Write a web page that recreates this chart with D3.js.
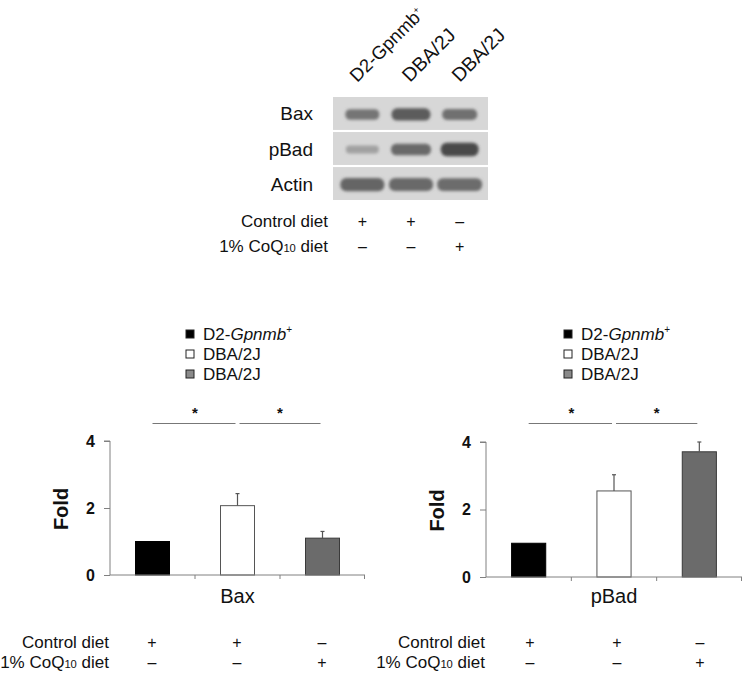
<!DOCTYPE html>
<html>
<head>
<meta charset="utf-8">
<script src="https://cdn.jsdelivr.net/npm/d3@7"></script>
<style>
  html, body { margin: 0; padding: 0; background: #fff; }
  svg { display: block; font-family: "Liberation Sans", Arial, Helvetica, sans-serif; }
</style>
</head>
<body>
<svg id="chart" width="742" height="673"></svg>
<script>
// ---------- data ----------
const groups = ["D2-Gpnmb+", "DBA/2J", "DBA/2J (CoQ10)"];
const groupLabels = ["D2-Gpnmb+", "DBA/2J", "DBA/2J"];
const baxMean = [1.0, 2.07, 1.10];
const baxErr = [0, 0.36, 0.20];
const pBadMean = [1.0, 2.55, 3.71];
const pBadErr = [0, 0.48, 0.29];
const yTicks = [0, 2, 4];
const controlDiet = ["+", "+", "\u2013"];
const coqDiet = ["\u2013", "\u2013", "+"];
const blotRows = ["Bax", "pBad", "Actin"];
const baxBands = [0.55, 0.70, 0.58];
const pBadBands = [0.30, 0.62, 0.80];
const actinBands = [0.64, 0.62, 0.60];

// ---------- setup ----------
const svg = d3.select("#chart");
const FONT = '"Liberation Sans", Arial, Helvetica, sans-serif';
const barFill = ["#000000", "#ffffff", "#6b6b6b"];
const barStroke = ["#000000", "#555555", "#3a3a3a"];
const legendFill = ["#000000", "#ffffff", "#8a8a8a"];

const defs = svg.append("defs");
defs.append("filter").attr("id", "blur").attr("x", "-30%").attr("y", "-80%").attr("width", "160%").attr("height", "260%")
  .append("feGaussianBlur").attr("stdDeviation", 1.6);

// ---------- Western blot ----------
const lane = d3.scaleBand().domain(d3.range(3)).range([338, 484]);
const blotY = d3.scaleBand().domain(blotRows).range([97, 200]).paddingInner(0.06);
const bandData = { "Bax": baxBands, "pBad": pBadBands, "Actin": actinBands };
const bandW = { "Bax": [34, 39, 35], "pBad": [33, 40, 38], "Actin": [44, 44, 45] };
const bandH = { "Bax": 14, "pBad": 14, "Actin": 16 };
const shade = d3.scaleLinear().domain([0, 1]).range(["#d6d6d6", "#262626"]);

blotRows.forEach(r => {
  const y0 = blotY(r), h = blotY.bandwidth();
  svg.append("rect").attr("x", 333).attr("y", y0).attr("width", 155).attr("height", h).attr("fill", "#d7d7d7");
  const g = svg.append("g").attr("filter", "url(#blur)");
  bandData[r].forEach((v, i) => {
    const cx = lane(i) + lane.bandwidth() / 2;
    const bh = bandH[r] * (0.35 + 0.75 * v);
    const bw = bandW[r][i];
    g.append("rect")
      .attr("x", cx - bw / 2).attr("y", y0 + h / 2 - bh / 2 + 1)
      .attr("width", bw).attr("height", bh)
      .attr("rx", bh / 2.2)
      .attr("fill", shade(v));
  });
  svg.append("text").attr("x", 313).attr("y", y0 + h / 2 + 7)
    .attr("text-anchor", "end").attr("font-size", 19).attr("fill", "#111").text(r);
});

// rotated lane labels
const laneLabelShift = [-5, -1, 0];
groupLabels.forEach((lab, i) => {
  const cx = lane(i) + lane.bandwidth() / 2 + laneLabelShift[i];
  const t = svg.append("text")
    .attr("transform", `translate(${cx},83) rotate(-45)`)
    .attr("font-size", i === 0 ? 18.5 : 19.5).attr("fill", "#111");
  if (i === 0) {
    t.append("tspan").text("D2-Gpnmb");
    t.append("tspan").attr("font-size", 9).attr("dy", -7).text("+");
  } else {
    t.text(lab);
  }
});

// diet rows
function dietRows(xRight, xs, y1, y2, fs) {
  svg.append("text").attr("x", xRight).attr("y", y1).attr("text-anchor", "end")
    .attr("font-size", fs).attr("fill", "#111").text("Control diet");
  const t = svg.append("text").attr("x", xRight).attr("y", y2).attr("text-anchor", "end")
    .attr("font-size", fs).attr("fill", "#111");
  t.append("tspan").text("1% CoQ");
  t.append("tspan").attr("font-size", fs * 0.66).text("10");
  t.append("tspan").text(" diet");
  controlDiet.forEach((s, i) => {
    svg.append("text").attr("x", xs[i]).attr("y", y1).attr("text-anchor", "middle")
      .attr("font-size", fs - 1).attr("fill", "#111").text(s);
  });
  coqDiet.forEach((s, i) => {
    svg.append("text").attr("x", xs[i]).attr("y", y2).attr("text-anchor", "middle")
      .attr("font-size", fs - 1).attr("fill", "#111").text(s);
  });
}
dietRows(328, d3.range(3).map(i => lane(i) + lane.bandwidth() / 2), 227, 252, 17);

// ---------- bar charts ----------
function barChart(opt) {
  const { x0, x1, yTop, yBot, mean, err, label, legendX, signX } = opt;
  const x = d3.scaleBand().domain(groups).range([x0, x1]).paddingInner(0.6).paddingOuter(0.3);
  const y = d3.scaleLinear().domain([0, 4]).range([yBot, yTop]);
  const g = svg.append("g");

  // y axis
  const ya = g.append("g").attr("transform", `translate(${x0},0)`)
    .call(d3.axisLeft(y).tickValues(yTicks).tickSize(6).tickPadding(9).tickFormat(d3.format("d")));
  ya.select(".domain").attr("stroke", "#808080").attr("d", `M-6,${y(4)}H0V${y(0)}`);
  ya.selectAll(".tick line").attr("stroke", "#808080");
  ya.selectAll(".tick text").attr("font-family", FONT).attr("font-size", 16).attr("font-weight", "bold").attr("fill", "#111");

  // bars
  g.selectAll(".bar").data(groups).enter().append("rect")
    .attr("x", d => x(d)).attr("y", (d, i) => y(mean[i]))
    .attr("width", x.bandwidth()).attr("height", (d, i) => y(0) - y(mean[i]))
    .attr("fill", (d, i) => barFill[i]).attr("stroke", (d, i) => barStroke[i]).attr("stroke-width", 1);

  // error bars (upper only)
  groups.forEach((d, i) => {
    if (err[i] <= 0) return;
    const cx = x(d) + x.bandwidth() / 2;
    g.append("line").attr("x1", cx).attr("x2", cx).attr("y1", y(mean[i])).attr("y2", y(mean[i] + err[i]))
      .attr("stroke", "#555").attr("stroke-width", 1.2);
    g.append("line").attr("x1", cx - 2).attr("x2", cx + 2).attr("y1", y(mean[i] + err[i])).attr("y2", y(mean[i] + err[i]))
      .attr("stroke", "#555").attr("stroke-width", 1.2);
  });

  // x axis with ticks at group boundaries
  g.append("line").attr("x1", x0).attr("x2", x1).attr("y1", y(0)).attr("y2", y(0)).attr("stroke", "#808080");
  [1, 2, 3].forEach(k => {
    const bx = k < 3 ? x0 + (x1 - x0) * k / 3 : x1 - 0.5;
    g.append("line").attr("x1", bx).attr("x2", bx).attr("y1", y(0)).attr("y2", y(0) + 4).attr("stroke", "#808080");
  });

  // axis labels
  g.append("text").attr("transform", `translate(${x0 - 42},${(y(0) + y(4)) / 2 + 1}) rotate(-90)`)
    .attr("text-anchor", "middle").attr("font-size", 20).attr("font-weight", "bold").attr("fill", "#111").text("Fold");
  g.append("text").attr("x", (x0 + x1) / 2).attr("y", 603).attr("text-anchor", "middle")
    .attr("font-size", 20).attr("fill", "#111").text(label);

  // legend
  groups.forEach((d, i) => {
    const ly = 334 + i * 20;
    g.append("rect").attr("x", legendX).attr("y", ly - 4).attr("width", 8).attr("height", 8)
      .attr("fill", legendFill[i]).attr("stroke", "#222").attr("stroke-width", 1);
    const t = g.append("text").attr("x", legendX + 17).attr("y", ly + 6).attr("font-size", 17).attr("fill", "#111");
    if (i === 0) {
      t.append("tspan").text("D2-");
      t.append("tspan").attr("font-style", "italic").text("Gpnmb");
      t.append("tspan").attr("font-size", 10).attr("dy", -7).text("+");
    } else {
      t.text(groupLabels[i]);
    }
  });

  // significance lines
  const c = groups.map(d => x(d) + x.bandwidth() / 2);
  [[0, 1], [1, 2]].forEach(([a, b]) => {
    g.append("line").attr("x1", c[a] + (a === 0 ? 0 : 2)).attr("x2", c[b] - 2)
      .attr("y1", 423.5).attr("y2", 423.5).attr("stroke", "#777").attr("stroke-width", 1);
    g.append("text").attr("x", (c[a] + c[b]) / 2).attr("y", 418).attr("text-anchor", "middle")
      .attr("font-size", 15).attr("font-weight", "bold").attr("fill", "#111").text("*");
  });

  // diet rows
  dietRows(x0 - 1, signX, 648, 668, 17);
}

barChart({ x0: 110, x1: 365, yTop: 441, yBot: 575, mean: baxMean, err: baxErr, label: "Bax",
  legendX: 186, signX: [152, 237, 322] });
barChart({ x0: 486, x1: 742, yTop: 442, yBot: 577, mean: pBadMean, err: pBadErr, label: "pBad",
  legendX: 564, signX: [530, 617, 700] });
</script>
</body>
</html>
